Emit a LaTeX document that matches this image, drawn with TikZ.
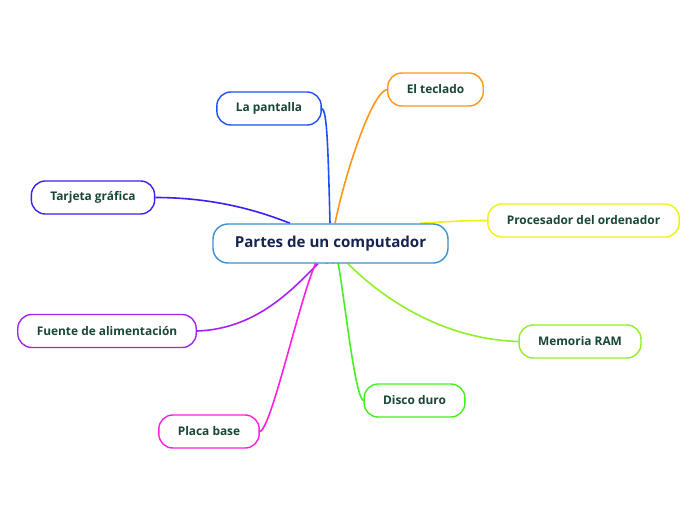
\documentclass[tikz,border=0pt]{standalone}
\usepackage{fontspec}
\setmainfont{Open Sans}
\usepackage{tikz}
\usetikzlibrary{calc, backgrounds}
\definecolor{centroborde}{RGB}{58, 143, 208}
\definecolor{centrotexto}{RGB}{22, 36, 80}
\definecolor{ramatexto}{RGB}{24, 70, 56}
\definecolor{cPantalla}{RGB}{30, 80, 245}
\definecolor{cTeclado}{RGB}{255, 150, 20}
\definecolor{cTarjeta}{RGB}{60, 30, 250}
\definecolor{cProcesador}{RGB}{240, 240, 20}
\definecolor{cFuente}{RGB}{165, 35, 240}
\definecolor{cMemoria}{RGB}{145, 240, 35}
\definecolor{cDisco}{RGB}{70, 240, 30}
\definecolor{cPlaca}{RGB}{255, 30, 225}

\tikzset{
  rama/.style={draw=#1, fill=white, line width=1.4pt, rounded corners=14pt,
    minimum height=33pt, inner xsep=19pt, text=ramatexto,
    font=\fontsize{11.9}{13}\selectfont\bfseries},
  enlace/.style={draw=#1, line width=1.6pt}
}

\begin{document}
\begin{tikzpicture}[x=1pt, y=-1pt]
  \useasboundingbox (0,0) rectangle (696,520);

  % Central topic
  \node[draw=centroborde, fill=white, line width=1.4pt, rounded corners=15pt,
    minimum width=235pt, minimum height=39pt, text=centrotexto,
    font=\fontsize{15.1}{17}\selectfont\bfseries] (centro) at (330.5,243.5)
    {Partes de un computador};

  % Branches
  \node[rama=cPantalla] (pantalla) at (269,108.5) {La pantalla};
  \node[rama=cTeclado] (teclado) at (435.5,89.5) {El teclado};
  \node[rama=cTarjeta] (tarjeta) at (93,197.5) {Tarjeta gráfica};
  \node[rama=cProcesador] (procesador) at (583.5,220.5) {Procesador del ordenador};
  \node[rama=cFuente] (fuente) at (107,331) {Fuente de alimentación};
  \node[rama=cMemoria] (memoria) at (580,341.5) {Memoria RAM};
  \node[rama=cDisco] (disco) at (414.5,400.5) {Disco duro};
  \node[rama=cPlaca] (placa) at (209,431.5) {Placa base};

  % Connectors
  \begin{scope}[on background layer]
    \draw[enlace=cPantalla] (pantalla.east) .. controls +(5,2) and +(-2,-80) .. ($(centro.north)+(-0.5,0)$);
    \draw[enlace=cTeclado] (teclado.west) .. controls +(-15,2) and +(10,-50) .. ($(centro.north)+(4.5,0)$);
    \draw[enlace=cTarjeta] (tarjeta.east) .. controls +(60,0) and +(-30,-12) .. ($(centro.north)+(-40.5,0)$);
    \draw[enlace=cProcesador] (procesador.west) .. controls +(-30,0) and +(20,-1) .. ($(centro.north)+(89.5,0)$);
    \draw[enlace=cFuente] (fuente.east) .. controls +(60,-2) and +(-25,25) .. ($(centro.south)+(-12.5,0)$);
    \draw[enlace=cMemoria] (memoria.west) .. controls +(-70,-2) and +(40,40) .. ($(centro.south)+(17.5,0)$);
    \draw[enlace=cDisco] (disco.west) .. controls +(-12,-5) and +(3,-60) .. ($(centro.south)+(2.5,0)$);
    \draw[enlace=cPlaca] (placa.east) .. controls +(15,-3) and +(-8,-60) .. ($(centro.south)+(-3.5,0)$);
  \end{scope}
\end{tikzpicture}
\end{document}
